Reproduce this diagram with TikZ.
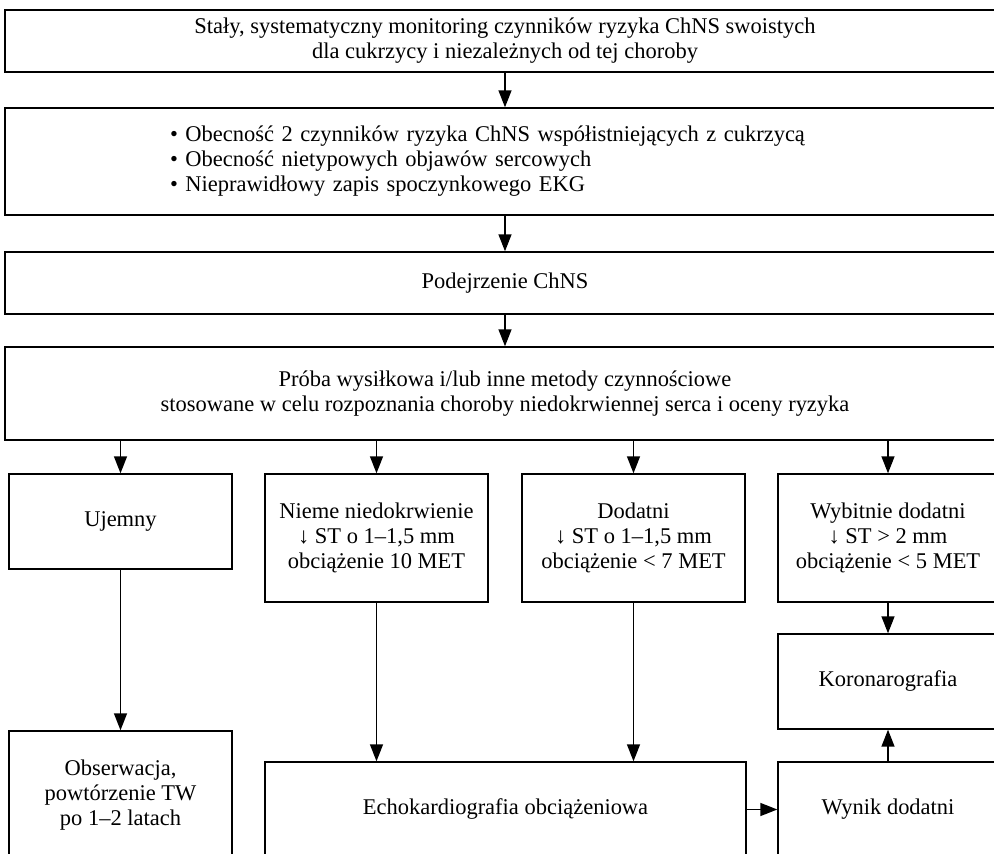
\documentclass[tikz,border=0pt]{standalone}
\usepackage{fontspec}
\setmainfont{Liberation Serif}
\usetikzlibrary{arrows.meta}

\begin{document}
\begin{tikzpicture}[x = 0.02cm, y = -0.02cm,
        box/.style = {draw, inner sep = 0pt, align = center,
                      font = \fontsize{12.8}{14.2}\selectfont},
        arr/.style = {-{Triangle[length = 0.34cm, width = 0.26cm]}}]
            \useasboundingbox (0, 0) rectangle (994, 854);

            \draw[line width = 0.8pt]
                (505, 41)    node (staly)   [box, minimum width = 20cm, minimum height = 1.24cm]
                    {Stały, systematyczny monitoring czynników ryzyka ChNS swoistych\\dla cukrzycy i niezależnych od tej choroby}
                (505, 161.5) node (lista)   [box, minimum width = 20cm, minimum height = 2.14cm,
                                             text width = 13.4cm, align = left]
                    {\textbullet\ Obecność 2 czynników ryzyka ChNS współistniejących z cukrzycą\\
                     \textbullet\ Obecność nietypowych objawów sercowych\\
                     \textbullet\ Nieprawidłowy zapis spoczynkowego EKG}
                (505, 283)   node (podejrz) [box, minimum width = 20cm, minimum height = 1.24cm]
                    {Podejrzenie ChNS}
                (505, 393.5) node (proba)   [box, minimum width = 20cm, minimum height = 1.86cm]
                    {Próba wysiłkowa i/lub inne metody czynnościowe\\stosowane w celu rozpoznania choroby niedokrwiennej serca i oceny ryzyka}

                (120.5, 521.5) node (ujemny)   [box, minimum width = 4.46cm, minimum height = 1.9cm]
                    {Ujemny}
                (376.5, 538)   node (nieme)    [box, minimum width = 4.46cm, minimum height = 2.56cm]
                    {Nieme niedokrwienie\\↓ ST o 1–1,5 mm\\obciążenie 10 MET}
                (633.5, 538)   node (dodatni)  [box, minimum width = 4.46cm, minimum height = 2.56cm]
                    {Dodatni\\↓ ST o 1–1,5 mm\\obciążenie < 7 MET}
                (888, 538)     node (wybitnie) [box, minimum width = 4.4cm, minimum height = 2.56cm]
                    {Wybitnie dodatni\\↓ ST > 2 mm\\obciążenie < 5 MET}

                (888, 681.5)   node (koron)    [box, minimum width = 4.4cm, minimum height = 1.9cm]
                    {Koronarografia}
                (120.5, 795)   node (obserw)   [box, minimum width = 4.46cm, minimum height = 2.56cm]
                    {Obserwacja,\\powtórzenie TW\\po 1–2 latach}
                (505.5, 809.5) node (echo)     [box, minimum width = 9.62cm, minimum height = 1.9cm]
                    {Echokardiografia obciążeniowa}
                (888, 809.5)   node (wynik)    [box, minimum width = 4.4cm, minimum height = 1.9cm]
                    {Wynik dodatni}

                (staly)   edge[arr] (lista)
                (lista)   edge[arr] (podejrz)
                (podejrz) edge[arr] (proba)

                (proba.south -| ujemny.north)   edge[arr] (ujemny)
                (proba.south -| nieme.north)    edge[arr] (nieme)
                (proba.south -| dodatni.north)  edge[arr] (dodatni)
                (proba.south -| wybitnie.north) edge[arr] (wybitnie)

                (ujemny)   edge[arr] (obserw)
                (nieme)    edge[arr] (nieme.south |- echo.north)
                (dodatni)  edge[arr] (dodatni.south |- echo.north)
                (wybitnie) edge[arr] (koron)
                (wynik)    edge[arr] (koron)
                (echo)     edge[arr] (wynik)
            ;
        \end{tikzpicture}
\end{document}
